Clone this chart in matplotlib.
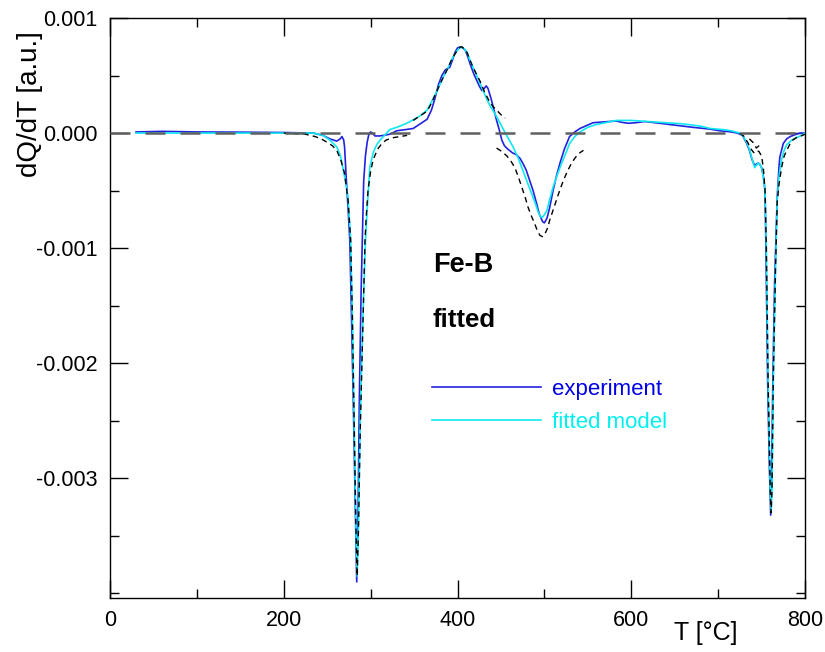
import numpy as np
import matplotlib
matplotlib.use("Agg")
import matplotlib.pyplot as plt
from matplotlib.ticker import MultipleLocator

plt.rcParams['font.family'] = ['Liberation Sans', 'DejaVu Sans']

# ---------------- data (values in units of 1e-3) ----------------
exp_T = [30, 60, 100, 150, 200, 234, 245, 253, 261, 265, 267, 269, 270, 272, 274, 276, 278, 280, 282, 284,
         285.5, 287, 289, 290.5, 292, 294, 296, 298, 300, 302, 305, 310, 315, 322, 330, 340, 349, 357, 365,
         370, 374, 378, 382, 386, 391, 394, 397, 400, 403, 406, 409, 412, 415, 419, 422, 425, 428, 431, 433,
         435, 437, 439, 442, 445, 448, 451, 454, 458, 463, 468, 472, 475, 479, 483, 487, 491, 494, 498, 500,
         503, 506, 510, 514, 518, 523, 529, 535, 541, 550, 556, 565, 575, 583, 588, 592, 597, 605, 615, 622,
         633, 650, 671, 690, 702, 715, 722, 728, 733, 736, 739, 742, 744, 746, 748, 750, 752, 754, 755, 757,
         759, 760.5, 761.5, 763, 765, 766.6, 768, 770, 771, 775, 779, 783, 790, 794, 800]
exp_v = [0.01, 0.015, 0.01, 0.008, 0.005, 0.0, -0.02, -0.05, -0.07, -0.05, -0.03, -0.06, -0.12, -0.4, -0.65,
         -0.93, -1.6, -2.32, -3.1, -3.9, -3.3, -2.32, -1.4, -0.9, -0.42, -0.2, -0.08, -0.01, 0.01, 0.0,
         -0.025, -0.025, -0.02, -0.01, 0.02, 0.03, 0.04, 0.08, 0.12, 0.2, 0.3, 0.42, 0.5, 0.55, 0.57, 0.63,
         0.7, 0.74, 0.75, 0.74, 0.72, 0.66, 0.59, 0.51, 0.46, 0.41, 0.37, 0.39, 0.41, 0.39, 0.34, 0.29, 0.2,
         0.11, 0.03, -0.06, -0.11, -0.14, -0.17, -0.19, -0.22, -0.26, -0.32, -0.41, -0.5, -0.61, -0.7, -0.77,
         -0.78, -0.74, -0.65, -0.5, -0.37, -0.26, -0.14, -0.03, 0.01, 0.04, 0.07, 0.09, 0.095, 0.1, 0.105,
         0.095, 0.09, 0.085, 0.09, 0.1, 0.095, 0.085, 0.07, 0.05, 0.035, 0.02, 0.01, 0.0, -0.02, -0.09, -0.15,
         -0.23, -0.28, -0.27, -0.26, -0.27, -0.3, -0.37, -0.5, -1.0, -2.15, -2.9, -3.32, -3.0, -2.15, -1.3,
         -0.9, -0.56, -0.3, -0.21, -0.09, -0.05, -0.03, -0.01, 0.0, 0.0]

fit_T = [30, 100, 200, 234, 245, 253, 261, 265, 268, 271, 274, 277, 279, 281, 283, 284.5, 286, 288, 290, 292,
         294, 296, 299, 303, 307, 311, 316, 322, 330, 340, 349, 357, 365, 370, 376, 382, 388, 394, 399, 403,
         405, 408, 411, 414, 418, 422, 426, 430, 434, 438, 443, 448, 453, 458, 464, 470, 475, 480, 485, 490,
         493, 496, 498, 500, 503, 506, 510, 515, 520, 525, 529, 535, 541, 550, 560, 570, 583, 600, 620, 640,
         660, 680, 691, 706, 715, 725, 729, 733, 736, 739, 742, 744, 746, 748, 750, 752, 754, 755.5, 757.5,
         760, 761, 762, 763.5, 766, 768, 770, 773, 776, 779, 785, 790, 796, 800]
fit_v = [0.0, 0.0, 0.0, 0.0, -0.02, -0.06, -0.12, -0.19, -0.3, -0.42, -0.56, -0.93, -1.6, -2.5, -3.4, -3.85,
         -3.4, -2.5, -1.9, -1.4, -0.95, -0.67, -0.3, -0.17, -0.1, -0.06, -0.02, 0.03, 0.05, 0.08, 0.115, 0.15,
         0.2, 0.27, 0.36, 0.46, 0.55, 0.65, 0.71, 0.745, 0.75, 0.73, 0.7, 0.64, 0.57, 0.5, 0.43, 0.36, 0.29,
         0.23, 0.17, 0.1, 0.03, -0.04, -0.12, -0.22, -0.32, -0.42, -0.52, -0.62, -0.69, -0.73, -0.73, -0.71,
         -0.67, -0.58, -0.47, -0.36, -0.26, -0.17, -0.09, -0.03, 0.01, 0.05, 0.075, 0.09, 0.11, 0.11, 0.1,
         0.09, 0.08, 0.06, 0.04, 0.03, 0.02, 0.0, -0.03, -0.08, -0.14, -0.22, -0.3, -0.28, -0.26, -0.27, -0.3,
         -0.38, -0.5, -1.0, -2.15, -3.1, -3.3, -3.1, -2.15, -1.2, -0.58, -0.38, -0.23, -0.15, -0.1, -0.06,
         -0.04, -0.02, 0.0]

# fitted components (black dashed)
c1_T = [200, 225, 236, 243, 250, 256, 261, 266, 270, 274, 277, 279, 281, 283, 284.5, 286, 288, 290, 292,
        293.5, 295, 297, 300, 303, 308, 313, 318, 326, 334, 342]
c1_v = [0.0, -0.01, -0.03, -0.05, -0.08, -0.11, -0.15, -0.24, -0.35, -0.58, -0.93, -1.6, -2.5, -3.4, -3.85,
        -3.45, -2.6, -2.0, -1.4, -0.93, -0.72, -0.5, -0.33, -0.23, -0.14, -0.09, -0.06, -0.04, -0.03, -0.02]
c2_T = [349, 357, 365, 370, 376, 382, 388, 394, 399, 403, 405, 408, 411, 414, 418, 422, 426, 431, 437, 441,
        445, 450, 455]
c2_v = [0.11, 0.15, 0.19, 0.26, 0.36, 0.46, 0.55, 0.65, 0.71, 0.745, 0.75, 0.73, 0.7, 0.64, 0.57, 0.51, 0.45,
        0.36, 0.27, 0.23, 0.2, 0.16, 0.13]
c3_T = [445, 451, 457, 462, 466, 470, 474, 478, 481, 485, 489, 492, 495, 498, 501, 504, 506, 510, 514, 518,
        522, 526, 530, 534, 537, 541, 545]
c3_v = [-0.13, -0.16, -0.2, -0.25, -0.3, -0.38, -0.47, -0.56, -0.64, -0.72, -0.79, -0.85, -0.89, -0.9, -0.87,
        -0.82, -0.76, -0.67, -0.58, -0.49, -0.41, -0.34, -0.28, -0.23, -0.2, -0.17, -0.15]
c4_T = [736, 740, 744, 747, 750]
c4_v = [-0.05, -0.08, -0.13, -0.11, -0.08]
c5_T = [725, 730, 734, 738, 741, 744, 747, 750, 752, 754, 755.5, 757.5, 760, 761, 762, 763.5, 766, 768, 770,
        773, 776, 779, 783, 786, 790, 794, 800]
c5_v = [0.0, -0.03, -0.08, -0.14, -0.17, -0.15, -0.16, -0.2, -0.3, -0.5, -1.0, -2.15, -3.1, -3.3, -3.1,
        -2.15, -1.2, -0.6, -0.45, -0.3, -0.2, -0.15, -0.09, -0.06, -0.04, -0.03, -0.01]

x_ticks = [0, 200, 400, 600, 800]
y_ticks = [0.001, 0.0, -0.001, -0.002, -0.003]
y_ticklabels = ['0.001', '0.000', '-0.001', '-0.002', '-0.003']

SCALE = 1e-3
BLUE = '#2222e0'
CYAN = '#10e8f0'

# ---------------- figure ----------------
W, H = 825, 652
fig = plt.figure(figsize=(W / 100, H / 100), dpi=100)
ax = fig.add_axes([110 / W, 1 - 598 / H, 695 / W, 580 / H])

ax.plot(exp_T, np.array(exp_v) * SCALE, color=BLUE, lw=1.2, label='experiment', zorder=3)
ax.plot(fit_T, np.array(fit_v) * SCALE, color=CYAN, lw=1.2, label='fitted model', zorder=4)
for cT, cv in [(c1_T, c1_v), (c2_T, c2_v), (c3_T, c3_v), (c4_T, c4_v), (c5_T, c5_v)]:
    ax.plot(cT, np.array(cv) * SCALE, color='black', lw=1.0, ls=(0, (4, 3)), zorder=5)
ax.axhline(0, color='#606060', lw=1.8, ls=(0, (8, 6)), zorder=6)

ax.set_xlim(0, 800)
ax.set_ylim(-0.00404, 0.001)
ax.set_xticks(x_ticks)
ax.set_xticklabels([str(t) for t in x_ticks])
ax.set_yticks(y_ticks)
ax.set_yticklabels(y_ticklabels)
ax.xaxis.set_minor_locator(MultipleLocator(100))
ax.yaxis.set_minor_locator(MultipleLocator(0.0005))
ax.tick_params(which='both', direction='in', top=True, right=True, labelsize=15.5, width=1.0, colors='black')
ax.tick_params(which='major', length=13, pad=9)
ax.tick_params(which='minor', length=6.5)
for s in ax.spines.values():
    s.set_linewidth(1.0)

fig.text(30 / W, 1 - 104 / H, 'dQ/dT [a.u.]', rotation=90, ha='center', va='center', fontsize=20)
fig.text(706 / W, 1 - 633 / H, 'T [°C]', ha='center', va='center', fontsize=18)

fig.text(433 / W, 1 - 272 / H, 'Fe-B', ha='left', va='baseline', fontsize=19.5, fontweight='bold')
fig.text(432 / W, 1 - 327 / H, 'fitted', ha='left', va='baseline', fontsize=18.5, fontweight='bold')

leg = ax.legend(loc='upper left', bbox_to_anchor=(432 / W, 1 - 379 / H), bbox_transform=fig.transFigure,
                frameon=False, fontsize=16, handlelength=4.9, handletextpad=0.5, labelspacing=0.55,
                borderpad=0, borderaxespad=0)
for t, c in zip(leg.get_texts(), ['#0000e6', '#00f0f0']):
    t.set_color(c)

fig.savefig('out.png', dpi=100)
